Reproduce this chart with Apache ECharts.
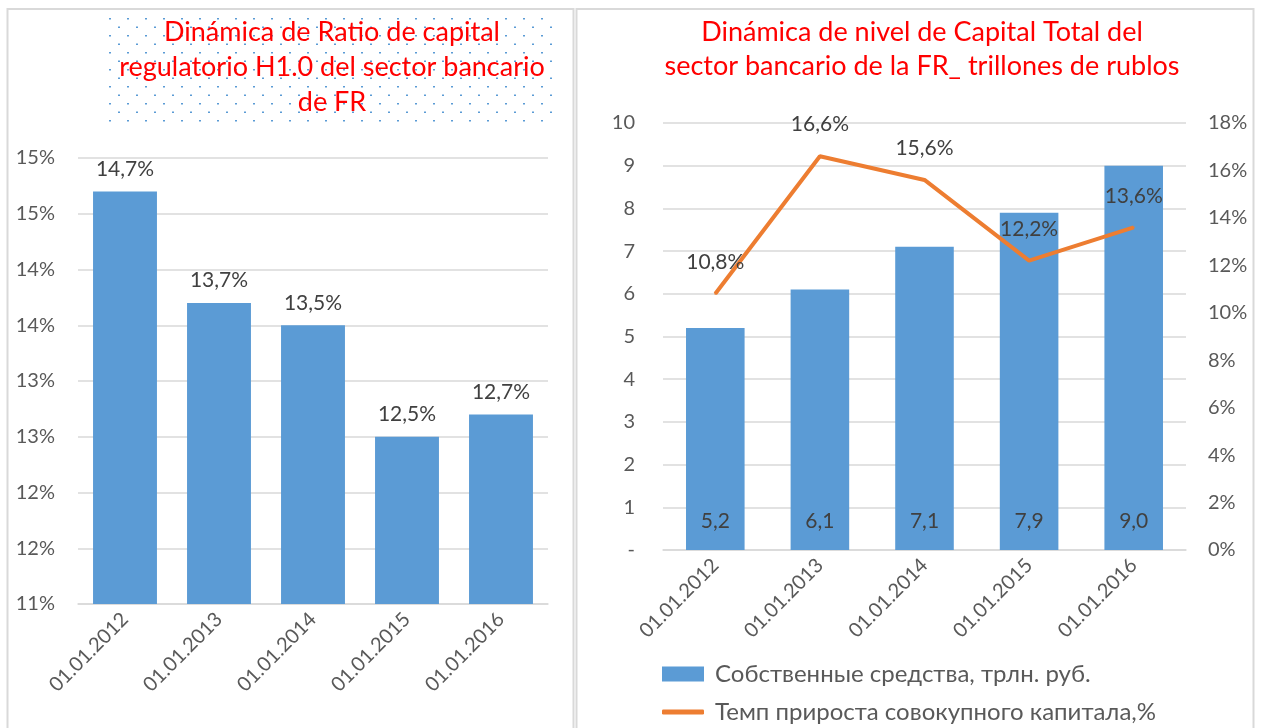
<!DOCTYPE html>
<html>
<head>
<meta charset="utf-8">
<script src="https://cdn.jsdelivr.net/npm/echarts@6/dist/echarts.min.js"></script>
<style>
  html, body { margin: 0; padding: 0; background: #fff; }
  #main { width: 1261px; height: 728px; }
</style>
</head>
<body>
<div id="main"></div>
<script>
// dates of the reports
const years = ['01.01.2012', '01.01.2013', '01.01.2014', '01.01.2015', '01.01.2016'];
// H1.0 ratio, %
const ratioH1 = [14.7, 13.7, 13.5, 12.5, 12.7];
// own funds, trillion rub
const ownFunds = [5.2, 6.1, 7.1, 7.9, 9.0];
// growth of total capital, %
const capitalGrowth = [10.8, 16.6, 15.6, 12.2, 13.6];

const leftTitle = 'Dinámica de Ratio de capital\nregulatorio H1.0 del sector bancario\nde FR';
const rightTitle = 'Dinámica de nivel de Capital Total del\nsector bancario de la FR_ trillones de rublos';
const barName = 'Собственные средства, трлн. руб.';
const lineName = 'Темп прироста совокупного капитала,%';

const FONT = 'Lato, "Open Sans", sans-serif';
const comma = (v) => v.toFixed(1).replace('.', ',');

// dotted fill for the left title box
const dots = document.createElement('canvas');
dots.width = 18;
dots.height = 17;
const dctx = dots.getContext('2d');
dctx.fillStyle = '#5b9bd5';
dctx.fillRect(1, 1, 2, 1.5);
dctx.fillRect(10, 9.5, 2, 1.5);

var myChart = echarts.init(document.getElementById('main'));

const axisText = { color: '#595959', fontSize: 20, fontFamily: FONT };
const catLabel = { color: '#595959', fontSize: 20, fontFamily: FONT, rotate: 45, margin: 12 };
const grayLine = { lineStyle: { color: '#d9d9d9', width: 1.5 } };
const legendText = { color: '#595959', fontSize: 24, fontFamily: FONT, padding: [0, 0, 0, 6] };

myChart.setOption({
  animation: false,
  textStyle: { fontFamily: FONT },
  graphic: [
    { type: 'rect', shape: { x: 7.5, y: 9, width: 566, height: 740 },
      style: { fill: 'none', stroke: '#d9d9d9', lineWidth: 2 } },
    { type: 'rect', shape: { x: 576.5, y: 9, width: 677, height: 740 },
      style: { fill: 'none', stroke: '#d9d9d9', lineWidth: 2 } },
    { type: 'rect', shape: { x: 108, y: 14, width: 448, height: 111 },
      style: { fill: { image: dots, repeat: 'repeat' } } },
    { type: 'text', x: 332, y: 15,
      style: { text: leftTitle, textAlign: 'center', textVerticalAlign: 'top',
        fill: '#ff0000', fontSize: 27, fontFamily: FONT, lineHeight: 35 } },
    { type: 'text', x: 922, y: 15,
      style: { text: rightTitle, textAlign: 'center', textVerticalAlign: 'top',
        fill: '#ff0000', fontSize: 27, fontFamily: FONT, lineHeight: 34 } }
  ],
  legend: [
    {
      data: [{ name: barName, icon: 'rect' }],
      left: 657, top: 657,
      itemWidth: 42, itemHeight: 15, itemGap: 14,
      textStyle: legendText
    },
    {
      data: [{ name: lineName, icon: 'roundRect' }],
      left: 657, top: 695,
      itemWidth: 42, itemHeight: 5, itemGap: 14,
      textStyle: legendText
    }
  ],
  grid: [
    { left: 78, right: 713, top: 158, bottom: 124 },
    { left: 663, right: 75, top: 123, bottom: 178 }
  ],
  xAxis: [
    {
      type: 'category', gridIndex: 0, data: years,
      axisTick: { show: false }, axisLine: grayLine,
      axisLabel: catLabel
    },
    {
      type: 'category', gridIndex: 1, data: years,
      axisTick: { show: false }, axisLine: grayLine,
      axisLabel: catLabel
    }
  ],
  yAxis: [
    {
      type: 'value', gridIndex: 0, min: 11, max: 15, interval: 0.5,
      axisLine: { show: false }, axisTick: { show: false },
      splitLine: grayLine,
      axisLabel: Object.assign({ margin: 23, formatter: (v) => Math.round(v) + '%' }, axisText)
    },
    {
      type: 'value', gridIndex: 1, min: 0, max: 10, interval: 1,
      axisLine: { show: false }, axisTick: { show: false },
      splitLine: grayLine,
      axisLabel: Object.assign({ margin: 28, formatter: (v) => (v === 0 ? '-' : v) }, axisText)
    },
    {
      type: 'value', gridIndex: 1, min: 0, max: 18, interval: 2, position: 'right',
      axisLine: { show: false }, axisTick: { show: false },
      splitLine: { show: false },
      axisLabel: Object.assign({ margin: 22, formatter: (v) => v + '%' }, axisText)
    }
  ],
  series: [
    {
      name: 'H1.0',
      type: 'bar', xAxisIndex: 0, yAxisIndex: 0,
      data: ratioH1,
      barCategoryGap: '32%',
      itemStyle: { color: '#5b9bd5' },
      label: {
        show: true, position: 'top', distance: 12,
        color: '#404040', fontSize: 21, fontFamily: FONT,
        formatter: (p) => comma(p.value) + '%'
      }
    },
    {
      name: barName,
      type: 'bar', xAxisIndex: 1, yAxisIndex: 1,
      data: ownFunds,
      barCategoryGap: '44%',
      itemStyle: { color: '#5b9bd5' },
      label: {
        show: true, position: 'insideBottom', distance: 18,
        color: '#404040', fontSize: 21, fontFamily: FONT,
        formatter: (p) => comma(p.value)
      }
    },
    {
      name: lineName,
      type: 'line', xAxisIndex: 1, yAxisIndex: 2,
      data: capitalGrowth,
      symbol: 'circle', symbolSize: 2,
      lineStyle: { color: '#ed7d31', width: 4 },
      itemStyle: { color: '#ed7d31' },
      label: {
        show: true, position: 'top', distance: 20,
        color: '#404040', fontSize: 21, fontFamily: FONT,
        formatter: (p) => comma(p.value) + '%'
      }
    }
  ]
});
</script>
</body>
</html>
